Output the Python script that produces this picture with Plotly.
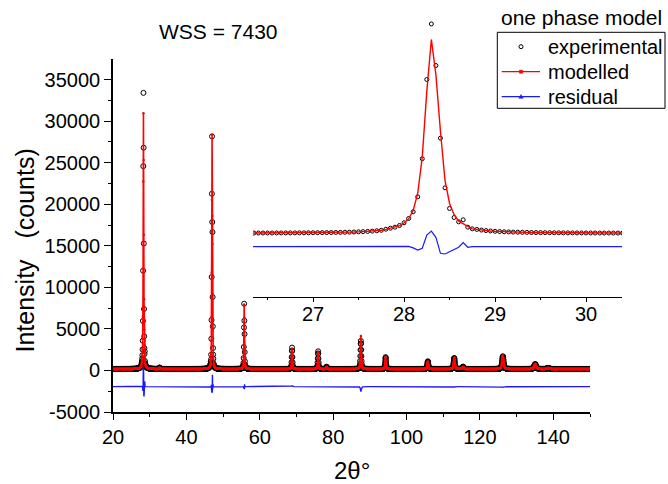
import numpy as np
import plotly.graph_objects as go

# ---------------------------------------------------------------------------
# Data
# ---------------------------------------------------------------------------
# 2-theta scan, 0.05 deg step
two_theta = np.round(np.arange(20.0, 150.0 + 1e-9, 0.05), 2)
background = 170.0          # flat background level (counts)
residual_offset = -1950.0   # residual curve is shifted down for clarity

# Reflections: centre (deg), observed and modelled peak counts, FWHM (deg)
refl_pos = [28.31, 32.70, 47.00, 55.75, 68.80, 75.90, 78.20, 87.55,
            94.30, 105.80, 113.00, 115.40, 126.25, 135.05, 138.60]
refl_obs = [31000, 350, 28200, 8000, 2750, 2300, 450, 3550,
            1600, 1100, 1500, 450, 1700, 750, 300]
refl_mod = [31000, 330, 28200, 8000, 2650, 2250, 430, 4150,
            1550, 1080, 1550, 430, 1800, 800, 300]
refl_fwhm = [0.20, 0.20, 0.18, 0.20, 0.22, 0.24, 0.25, 0.28,
             0.30, 0.36, 0.40, 0.42, 0.50, 0.65, 0.70]

# Point-by-point counts across the three strongest reflections
win_28_tt = [27.80, 27.85, 27.90, 27.95, 28.00, 28.05, 28.10, 28.15, 28.20, 28.25,
             28.30, 28.35, 28.40, 28.45, 28.50, 28.55, 28.60, 28.65, 28.70, 28.75]
win_28_obs = [820, 980, 1140, 1410, 1840, 2520, 3580, 5960, 12000, 24580,
              33400, 26800, 15270, 7390, 4110, 2680, 1990, 2310, 1140, 880]
win_28_mod = [800, 960, 1130, 1390, 1800, 2480, 3780, 6490, 12260, 22730,
              30940, 25315, 16325, 8556, 4910, 3130, 2090, 1680, 1240, 880]

win_47_tt = [46.70, 46.75, 46.80, 46.85, 46.90, 46.95, 47.00,
             47.05, 47.10, 47.15, 47.20, 47.25, 47.30, 47.35]
win_47_obs = [1300, 1890, 3810, 6060, 11240, 21260, 28160,
              17860, 16650, 8830, 5300, 2690, 1900, 1400]
win_47_mod = [1350, 2000, 3600, 6400, 11800, 20500, 28360,
              18600, 15220, 9200, 5000, 2900, 1800, 1350]

win_56_tt = [55.50, 55.55, 55.60, 55.65, 55.70, 55.75, 55.80, 55.85, 55.90, 55.95, 56.00]
win_56_obs = [620, 900, 1490, 2820, 5170, 8030, 5980, 4380, 2210, 1100, 700]
win_56_mod = [640, 930, 1600, 3000, 5400, 7950, 6300, 4100, 2300, 1150, 720]

# Axis tick labels
y_tick_vals = [-5000, 0, 5000, 10000, 15000, 20000, 25000, 30000, 35000]
y_tick_text = ["-5000", "0", "5000", "10000", "15000", "20000", "25000", "30000", "35000"]
x_tick_vals = [20, 40, 60, 80, 100, 120, 140]
inset_tick_vals = [27, 28, 29, 30]

legend_labels = ["experimental", "modelled", "residual"]


# ---------------------------------------------------------------------------
# Profiles
# ---------------------------------------------------------------------------
def pseudo_voigt(x, x0, fwhm, eta=0.5):
    d = (x - x0) / fwhm
    return eta / (1.0 + 4.0 * d ** 2) + (1.0 - eta) * np.exp(-4.0 * np.log(2.0) * d ** 2)


def build_profile(heights):
    y = np.full_like(two_theta, background, dtype=float)
    for x0, h, w in zip(refl_pos, heights, refl_fwhm):
        y += (h - background) * pseudo_voigt(two_theta, x0, w)
    return y


observed = build_profile(refl_obs)
modelled = build_profile(refl_mod)

for tt, obs, mod in [(win_28_tt, win_28_obs, win_28_mod),
                     (win_47_tt, win_47_obs, win_47_mod),
                     (win_56_tt, win_56_obs, win_56_mod)]:
    idx = np.rint((np.array(tt) - two_theta[0]) / 0.05).astype(int)
    observed[idx] = obs
    modelled[idx] = mod

residual = observed - modelled + residual_offset

zoom = (two_theta >= 26.2) & (two_theta <= 30.5)

# ---------------------------------------------------------------------------
# Figure
# ---------------------------------------------------------------------------
FONT = "Liberation Sans, Arial, sans-serif"
BLACK = "#000000"
RED = "#ff0000"
BLUE = "#1a1aff"

W, H = 668, 484
ML, MR, MT, MB = 113, 46, 0, 72
PW, PH = W - ML - MR, H - MT - MB


def px(xp):
    """pixel column -> paper x"""
    return (xp - ML) / PW


def py(yp):
    """pixel row -> paper y"""
    return (H - MB - yp) / PH


fig = go.Figure()

# main panel
fig.add_trace(go.Scatter(
    x=two_theta, y=observed, mode="markers", showlegend=False,
    marker=dict(symbol="circle-open", size=5, color=BLACK, line=dict(width=1, color=BLACK)),
    xaxis="x", yaxis="y"))
fig.add_trace(go.Scatter(
    x=two_theta, y=modelled, mode="lines+markers", showlegend=False,
    line=dict(color=RED, width=1.6), marker=dict(symbol="circle", size=2.5, color=RED),
    xaxis="x", yaxis="y"))
fig.add_trace(go.Scatter(
    x=two_theta, y=residual, mode="lines", showlegend=False,
    line=dict(color=BLUE, width=1.4),
    xaxis="x", yaxis="y"))

# inset around the strongest reflection
fig.add_trace(go.Scatter(
    x=two_theta[zoom], y=observed[zoom], mode="markers", showlegend=False,
    marker=dict(symbol="circle-open", size=4, color=BLACK, line=dict(width=1, color=BLACK)),
    xaxis="x2", yaxis="y2"))
fig.add_trace(go.Scatter(
    x=two_theta[zoom], y=modelled[zoom], mode="lines", showlegend=False,
    line=dict(color=RED, width=1.4),
    xaxis="x2", yaxis="y2"))
fig.add_trace(go.Scatter(
    x=two_theta[zoom], y=residual[zoom], mode="lines", showlegend=False,
    line=dict(color=BLUE, width=1.2),
    xaxis="x2", yaxis="y2"))

axis_common = dict(showgrid=False, zeroline=False, showline=True, linecolor=BLACK,
                   ticks="outside", tickcolor=BLACK,
                   tickfont=dict(family=FONT, size=20, color=BLACK))

# legend box drawn with shapes (title sits above the frame)
row_y = [46.7, 71.7, 96.7]
sym_x0, sym_x1, sym_xc = 501.7, 540.0, 521.0
shapes = [
    dict(type="rect", xref="paper", yref="paper",
         x0=px(497.3), x1=px(665.0), y0=py(108.3), y1=py(32.3),
         line=dict(color=BLACK, width=1), fillcolor="white", layer="above"),
    # experimental: open circle
    dict(type="circle", xref="paper", yref="paper", xsizemode="pixel", ysizemode="pixel",
         xanchor=px(sym_xc), yanchor=py(row_y[0]), x0=-2, x1=2, y0=-2, y1=2,
         line=dict(color=BLACK, width=1), layer="above"),
    # modelled: red line with dot
    dict(type="line", xref="paper", yref="paper",
         x0=px(sym_x0), x1=px(sym_x1), y0=py(row_y[1]), y1=py(row_y[1]),
         line=dict(color=RED, width=1.3), layer="above"),
    dict(type="rect", xref="paper", yref="paper", xsizemode="pixel", ysizemode="pixel",
         xanchor=px(sym_xc), yanchor=py(row_y[1]), x0=-1.6, x1=1.6, y0=-1.6, y1=1.6,
         line=dict(color=RED, width=0.5), fillcolor=RED, layer="above"),
    # residual: blue line with triangle
    dict(type="line", xref="paper", yref="paper",
         x0=px(sym_x0), x1=px(sym_x1), y0=py(row_y[2]), y1=py(row_y[2]),
         line=dict(color=BLUE, width=1.3), layer="above"),
    dict(type="path", xref="paper", yref="paper", xsizemode="pixel", ysizemode="pixel",
         xanchor=px(sym_xc), yanchor=py(row_y[2]), path="M -2.2 -1.6 L 2.2 -1.6 L 0 2.2 Z",
         line=dict(color=BLUE, width=0.5), fillcolor=BLUE, layer="above"),
]

annotations = [
    dict(text="WSS = 7430", xref="paper", yref="paper", x=px(218), y=py(31.7),
         showarrow=False, xanchor="center", yanchor="middle",
         font=dict(family=FONT, size=21, color=BLACK)),
    dict(text="one phase model", xref="paper", yref="paper", x=px(581), y=py(18),
         showarrow=False, xanchor="center", yanchor="middle",
         font=dict(family=FONT, size=21, color=BLACK)),
    dict(text="Intensity\u00a0\u00a0\u00a0(counts)", xref="paper", yref="paper",
         x=px(24), y=py(250.5), textangle=-90, showarrow=False,
         xanchor="center", yanchor="middle",
         font=dict(family=FONT, size=25, color=BLACK)),
    dict(text="2θ°", xref="paper", yref="paper", x=px(351.5), y=py(470),
         showarrow=False, xanchor="center", yanchor="middle",
         font=dict(family=FONT, size=24, color=BLACK)),
]
for label, ry in zip(legend_labels, row_y):
    annotations.append(dict(text=label, xref="paper", yref="paper", x=px(546.0), y=py(ry),
                            showarrow=False, xanchor="left", yanchor="middle",
                            font=dict(family=FONT, size=20, color=BLACK)))

fig.update_layout(
    width=W, height=H,
    margin=dict(l=ML, r=MR, t=MT, b=MB),
    paper_bgcolor="white", plot_bgcolor="rgba(0,0,0,0)",
    font=dict(family=FONT, color=BLACK),
    showlegend=False,
    xaxis=dict(domain=[0, px(590)], range=[20, 150],
               tickmode="array", tickvals=x_tick_vals,
               linewidth=1.6, ticklen=6, tickwidth=1.4,
               minor=dict(tick0=20, dtick=10, ticklen=3, tickwidth=1.2,
                          ticks="outside", tickcolor=BLACK),
               **axis_common),
    yaxis=dict(domain=[0, py(59.3)], range=[-5000, 37440],
               tickmode="array", tickvals=y_tick_vals, ticktext=y_tick_text,
               linewidth=1.6, ticklen=7, tickwidth=1.4,
               minor=dict(tick0=0, dtick=2500, ticklen=3, tickwidth=1.2,
                          ticks="outside", tickcolor=BLACK),
               **axis_common),
    xaxis2=dict(domain=[px(253), 1.0], range=[26.34, 30.395],
                tickmode="array", tickvals=inset_tick_vals,
                anchor="y2", linewidth=1, ticklen=4, tickwidth=1,
                ticklabelstandoff=-5,
                minor=dict(tick0=26.5, dtick=0.5, ticklen=2, tickwidth=1,
                           ticks="outside", tickcolor=BLACK),
                **axis_common),
    yaxis2=dict(domain=[py(296.7), 1.0], range=[-9894, 37200], anchor="x2",
                visible=False, showgrid=False, zeroline=False),
    shapes=shapes,
    annotations=annotations,
)

fig.write_html("out.html")
